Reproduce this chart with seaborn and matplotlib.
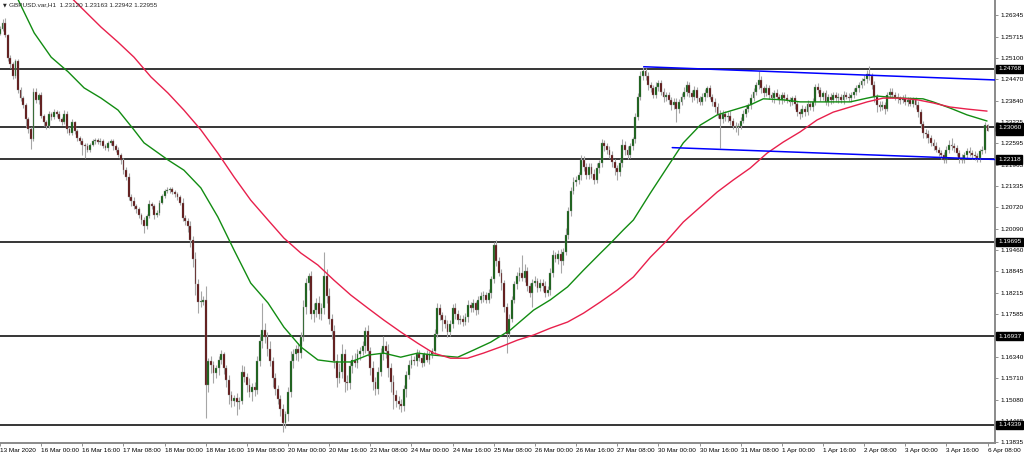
import numpy as np
import pandas as pd
import seaborn as sns
import matplotlib
matplotlib.use("Agg")
import matplotlib.pyplot as plt

# H1 closes, 13 Mar 08:00 .. 6 Apr 08:00
closes = [
    1.2595, 1.2612, 1.2575, 1.2510, 1.2490, 1.2455, 1.2500, 1.2415, 1.2390, 1.2370,
    1.2330, 1.2300, 1.2270, 1.2410, 1.2385, 1.2400, 1.2340, 1.2320, 1.2310, 1.2345,
    1.2335, 1.2350, 1.2345, 1.2330, 1.2320, 1.2345, 1.2300, 1.2290, 1.2320, 1.2295,
    1.2275, 1.2265, 1.2255, 1.2250, 1.2240, 1.2255, 1.2265, 1.2268, 1.2262, 1.2265,
    1.2250, 1.2245, 1.2260, 1.2265, 1.2250, 1.2240, 1.2225, 1.2210, 1.2180, 1.2160,
    1.2102, 1.2090, 1.2075, 1.2065, 1.2050, 1.2035, 1.2015, 1.2045, 1.2080, 1.2075,
    1.2050, 1.2055, 1.2085, 1.2105, 1.2118, 1.2122, 1.2125, 1.2115, 1.2110, 1.2100,
    1.2085, 1.2040, 1.2030, 1.2015, 1.1975, 1.1920, 1.1845, 1.1795, 1.1795, 1.1800,
    1.1550, 1.1620, 1.1610, 1.1585, 1.1600, 1.1625, 1.1640, 1.1600, 1.1565, 1.1520,
    1.1505, 1.1512, 1.1500, 1.1505, 1.1590, 1.1575, 1.1550, 1.1530, 1.1545, 1.1535,
    1.1620, 1.1680, 1.1712, 1.1690, 1.1655, 1.1620, 1.1570, 1.1540, 1.1510, 1.1480,
    1.1440, 1.1465, 1.1530, 1.1620, 1.1640, 1.1655, 1.1645, 1.1690, 1.1780, 1.1850,
    1.1870, 1.1760, 1.1770, 1.1790, 1.1760, 1.1775, 1.1870, 1.1810, 1.1745, 1.1710,
    1.1620, 1.1570, 1.1590, 1.1640, 1.1560, 1.1555, 1.1605, 1.1625, 1.1615, 1.1640,
    1.1650, 1.1665, 1.1710, 1.1650, 1.1600, 1.1560, 1.1540, 1.1590, 1.1640, 1.1665,
    1.1650, 1.1600, 1.1560, 1.1520, 1.1505, 1.1495, 1.1490, 1.1540, 1.1580, 1.1610,
    1.1625, 1.1620, 1.1640, 1.1630, 1.1615, 1.1640, 1.1625, 1.1640, 1.1650, 1.1700,
    1.1775, 1.1755, 1.1740, 1.1730, 1.1705, 1.1730, 1.1775, 1.1760, 1.1740, 1.1745,
    1.1735, 1.1750, 1.1785, 1.1775, 1.1790, 1.1770, 1.1800, 1.1810, 1.1815, 1.1800,
    1.1820, 1.1860, 1.1960, 1.1915, 1.1880, 1.1850, 1.1780, 1.1700, 1.1745, 1.1800,
    1.1845, 1.1870, 1.1880, 1.1865, 1.1885, 1.1840, 1.1820, 1.1850, 1.1855, 1.1835,
    1.1850, 1.1840, 1.1820, 1.1830, 1.1880, 1.1930, 1.1920, 1.1935, 1.1915, 1.1940,
    1.1990, 1.2060, 1.2120, 1.2145, 1.2150, 1.2165, 1.2210, 1.2190, 1.2165, 1.2190,
    1.2170, 1.2150, 1.2185, 1.2200, 1.2260, 1.2250, 1.2240, 1.2225, 1.2205, 1.2185,
    1.2175, 1.2200, 1.2255, 1.2240, 1.2225, 1.2250, 1.2270, 1.2335, 1.2395, 1.2455,
    1.2470, 1.2455, 1.2430, 1.2420, 1.2400, 1.2425, 1.2435, 1.2410, 1.2395, 1.2400,
    1.2385, 1.2370, 1.2380, 1.2360, 1.2380, 1.2395, 1.2410, 1.2430, 1.2405, 1.2395,
    1.2415, 1.2390, 1.2380, 1.2395, 1.2405, 1.2420, 1.2395, 1.2380, 1.2365, 1.2345,
    1.2330, 1.2345, 1.2335, 1.2340, 1.2325, 1.2310, 1.2305, 1.2310, 1.2325, 1.2345,
    1.2360, 1.2370, 1.2390, 1.2410, 1.2430, 1.2445, 1.2420, 1.2405, 1.2420, 1.2400,
    1.2390, 1.2405, 1.2395, 1.2385, 1.2400, 1.2390, 1.2385, 1.2380, 1.2390, 1.2375,
    1.2350, 1.2345, 1.2360, 1.2350, 1.2375, 1.2365, 1.2380, 1.2425, 1.2415, 1.2395,
    1.2405, 1.2380, 1.2395, 1.2385, 1.2400, 1.2390, 1.2395, 1.2385, 1.2400, 1.2395,
    1.2390, 1.2400, 1.2410, 1.2420, 1.2430, 1.2440, 1.2448, 1.2462, 1.2455, 1.2430,
    1.2395, 1.2370, 1.2365, 1.2372, 1.2360, 1.2400, 1.2410, 1.2400, 1.2395, 1.2390,
    1.2385, 1.2390, 1.2380, 1.2385, 1.2375, 1.2385, 1.2370, 1.2350, 1.2315, 1.2290,
    1.2285, 1.2275, 1.2260, 1.2250, 1.2240, 1.2230, 1.2225, 1.2210, 1.2240, 1.2255,
    1.2250, 1.2245, 1.2230, 1.2215, 1.2210, 1.2225, 1.2235, 1.2230, 1.2225, 1.2220,
    1.2215, 1.2235, 1.2240, 1.2312, 1.22955,
]
first_open = 1.2580

# wick lengths beyond the body, in pips
wick_up = [
    6, 10, 13, 5, 8, 6, 7, 5, 9, 6,
    8, 5, 6, 10, 12, 6, 8, 5, 7, 9,
    6, 8, 5, 7, 6, 12, 8, 6, 9, 5,
    6, 5, 8, 4, 10, 6, 7, 5, 6, 8,
    5, 6, 4, 7, 5, 6, 8, 5, 6, 10,
    12, 8, 10, 6, 7, 5, 8, 6, 12, 8,
    6, 8, 7, 5, 6, 10, 5, 6, 8, 7,
    6, 12, 8, 10, 15, 12, 20, 15, 30, 12,
    40, 10, 15, 12, 8, 10, 12, 8, 10, 15,
    12, 10, 15, 10, 20, 15, 12, 20, 10, 15,
    15, 20, 78, 20, 15, 25, 12, 15, 10, 12,
    15, 10, 15, 30, 15, 12, 20, 15, 20, 15,
    10, 15, 20, 15, 20, 15, 70, 20, 25, 15,
    15, 20, 25, 30, 15, 20, 15, 12, 20, 15,
    12, 15, 10, 15, 12, 20, 15, 12, 20, 30,
    15, 20, 15, 20, 15, 12, 15, 10, 12, 15,
    12, 10, 15, 12, 10, 8, 12, 10, 8, 15,
    15, 12, 10, 15, 12, 10, 12, 15, 10, 12,
    10, 12, 15, 10, 12, 8, 10, 12, 10, 8,
    12, 10, 10, 15, 12, 10, 8, 10, 15, 12,
    10, 12, 15, 50, 20, 12, 10, 12, 15, 10,
    12, 10, 15, 10, 12, 15, 10, 12, 15, 12,
    20, 12, 10, 15, 12, 9, 14, 12, 10, 12,
    10, 12, 15, 10, 12, 8, 10, 12, 10, 8,
    10, 12, 15, 10, 12, 10, 8, 12, 10, 15,
    13, 10, 12, 8, 10, 12, 10, 8, 12, 10,
    10, 8, 12, 10, 8, 12, 15, 10, 8, 10,
    12, 10, 8, 10, 12, 8, 10, 8, 10, 12,
    10, 12, 8, 10, 12, 8, 10, 8, 10, 12,
    10, 8, 12, 10, 8, 25, 10, 8, 12, 10,
    8, 10, 12, 8, 10, 8, 12, 10, 8, 10,
    8, 10, 12, 8, 10, 8, 12, 7, 10, 8,
    8, 10, 8, 12, 10, 8, 10, 8, 12, 10,
    10, 8, 12, 10, 8, 10, 12, 10, 23, 10,
    10, 8, 12, 10, 8, 10, 10, 12, 8, 10,
    8, 10, 12, 8, 10, 8, 10, 12, 10, 8,
    10, 12, 8, 10, 12, 8, 10, 8, 10, 12,
    20, 10, 8, 10, 12, 8, 10, 12, 8, 10,
    10, 8, 10, 8, 4.3,
]
wick_dn = [
    5, 6, 4, 10, 12, 8, 5, 9, 6, 8,
    25, 12, 28, 6, 8, 10, 7, 12, 9, 6,
    8, 6, 10, 7, 9, 6, 12, 8, 6, 10,
    10, 8, 30, 35, 8, 6, 5, 7, 6, 8,
    6, 5, 8, 6, 10, 8, 7, 12, 10, 8,
    10, 15, 8, 12, 10, 14, 20, 8, 6, 10,
    12, 8, 6, 5, 7, 6, 8, 6, 10, 8,
    8, 10, 12, 15, 20, 25, 30, 33, 15, 10,
    95, 20, 25, 30, 15, 20, 12, 18, 20, 25,
    20, 15, 37, 20, 10, 15, 20, 15, 25, 18,
    10, 15, 20, 15, 20, 15, 25, 20, 15, 20,
    27, 15, 20, 15, 20, 15, 25, 15, 12, 20,
    20, 15, 25, 20, 15, 20, 15, 20, 15, 25,
    20, 25, 15, 20, 30, 20, 15, 20, 12, 15,
    15, 12, 20, 15, 20, 25, 20, 15, 12, 15,
    20, 25, 30, 40, 20, 15, 20, 15, 25, 12,
    10, 12, 15, 10, 12, 10, 8, 12, 10, 10,
    10, 15, 30, 12, 15, 10, 12, 15, 10, 12,
    12, 10, 15, 12, 10, 15, 12, 10, 15, 10,
    10, 15, 12, 15, 10, 20, 15, 55, 12, 10,
    10, 12, 15, 10, 12, 15, 12, 40, 10, 12,
    10, 15, 12, 10, 15, 12, 10, 15, 37, 12,
    10, 12, 15, 10, 12, 10, 15, 12, 10, 12,
    12, 10, 8, 12, 10, 15, 12, 10, 15, 20,
    25, 12, 10, 15, 12, 10, 12, 10, 8, 10,
    10, 12, 15, 12, 10, 8, 12, 10, 15, 12,
    12, 15, 10, 40, 12, 10, 8, 12, 10, 15,
    10, 12, 10, 8, 12, 10, 8, 12, 15, 12,
    85, 12, 10, 15, 12, 10, 12, 22, 10, 8,
    8, 10, 12, 8, 10, 12, 15, 10, 8, 12,
    10, 12, 8, 10, 12, 10, 8, 12, 10, 15,
    12, 15, 10, 12, 8, 10, 12, 8, 10, 12,
    10, 8, 12, 10, 8, 10, 12, 8, 10, 8,
    8, 10, 8, 10, 12, 8, 10, 12, 10, 12,
    15, 20, 12, 10, 15, 8, 10, 8, 10, 12,
    10, 8, 10, 12, 8, 10, 12, 15, 12, 15,
    12, 15, 10, 12, 8, 10, 12, 10, 8, 10,
    10, 12, 10, 15, 10, 8, 10, 8, 12, 10,
    12, 10, 8, 10, 1.3,
]

date_labels = [
    "13 Mar 2020", "16 Mar 00:00", "16 Mar 16:00", "17 Mar 08:00", "18 Mar 00:00",
    "18 Mar 16:00", "19 Mar 08:00", "20 Mar 00:00", "20 Mar 16:00", "23 Mar 08:00",
    "24 Mar 00:00", "24 Mar 16:00", "25 Mar 08:00", "26 Mar 00:00", "26 Mar 16:00",
    "27 Mar 08:00", "30 Mar 00:00", "30 Mar 16:00", "31 Mar 08:00", "1 Apr 00:00",
    "1 Apr 16:00", "2 Apr 08:00", "3 Apr 00:00", "3 Apr 16:00", "6 Apr 08:00",
]
bars_per_label = 16

price_ticks = [1.26345, 1.25715, 1.25100, 1.24470, 1.23840, 1.23225, 1.22595,
               1.21965, 1.21335, 1.20720, 1.20090, 1.19460, 1.18845, 1.18215,
               1.17585, 1.16955, 1.16340, 1.15710, 1.15080, 1.14465, 1.13835]
hidden_ticks = [1.16955]  # fully covered by the 1.16937 box in the terminal

levels = [1.24768, 1.23060, 1.22118, 1.19695, 1.16937, 1.14339]
last_bar = (1.23120, 1.23163, 1.22942, 1.22955)

# moving averages, read at sampled bars
ma_fast_bar = [7, 13.3, 19.9, 26.5, 32.7, 39.3, 45.9, 52.1, 56, 65.3, 71.5, 78.1, 84.7, 91,
               97.5, 104.2, 110.4, 117, 123.6, 129.8, 136.4, 143, 149.2, 155.8, 162.4, 168.6,
               178, 184.2, 190.8, 198.5, 207.5, 214, 220.7, 226.9, 233.5, 237.4, 242.4, 246.3,
               252.9, 259.5, 265.7, 272.3, 278.9, 285.1, 291.7, 296.8, 304.5, 311.1, 330.6,
               337.2, 341.1, 350, 358.9, 362.8, 369.4, 376, 383.8]
ma_fast = [1.2680, 1.2582, 1.2511, 1.2468, 1.2421, 1.2391, 1.2356, 1.2298, 1.2260, 1.2210,
           1.2180, 1.2128, 1.2043, 1.1946, 1.1849, 1.1791, 1.1720, 1.1662, 1.1624, 1.1618,
           1.1618, 1.1638, 1.1644, 1.1632, 1.1644, 1.1638, 1.1632, 1.1653, 1.1676, 1.1712,
           1.1770, 1.1800, 1.1838, 1.1887, 1.1937, 1.1966, 1.2005, 1.2034, 1.2113, 1.2189,
           1.2260, 1.2312, 1.2342, 1.2356, 1.2371, 1.2389, 1.2386, 1.2380, 1.2380, 1.2391,
           1.2397, 1.2391, 1.2389, 1.2380, 1.2362, 1.2342, 1.2324]
ma_slow_bar = [28.4, 39.3, 45.9, 52.1, 58.7, 65.3, 71.5, 78.1, 84.7, 91, 97.5, 104.2, 110.4,
               117, 123.6, 129.8, 136.4, 143, 149.2, 155.8, 162.4, 168.6, 175.2, 181.8, 188,
               194.6, 201.2, 207.5, 214, 220.7, 226.9, 233.5, 240.1, 246.3, 252.9, 259.5,
               265.7, 272.3, 278.9, 285.1, 291.7, 298.3, 304.5, 311.1, 317.7, 324, 330.6,
               337.2, 343.4, 350, 356.7, 362.8, 369.4, 376, 383.8]
ma_slow = [1.2680, 1.2599, 1.2555, 1.2511, 1.2453, 1.2406, 1.2356, 1.2298, 1.2230, 1.2160,
           1.2092, 1.2034, 1.1981, 1.1937, 1.1902, 1.1858, 1.1814, 1.1776, 1.1741, 1.1706,
           1.1673, 1.1644, 1.1629, 1.1629, 1.1644, 1.1662, 1.1682, 1.1697, 1.1717, 1.1735,
           1.1761, 1.1794, 1.1829, 1.1867, 1.1925, 1.1975, 1.2028, 1.2072, 1.2116, 1.2151,
           1.2186, 1.2230, 1.2262, 1.2292, 1.2327, 1.2350, 1.2365, 1.2380, 1.2391, 1.2391,
           1.2386, 1.2377, 1.2365, 1.2359, 1.2353]

# channel lines drawn on the chart
upper_bar = [250.3, 388]
upper_price = [1.2483, 1.2444]
lower_bar = [261.4, 388]
lower_price = [1.2246, 1.2211]

# ---- build OHLC table
c = np.array(closes)
o = np.concatenate([[first_open], c[:-1]])
o[-1] = last_bar[0]
hi = np.maximum(o, c) + np.array(wick_up) / 10000
lo = np.minimum(o, c) - np.array(wick_dn) / 10000
df = pd.DataFrame({"bar": np.arange(len(c)), "open": o, "high": hi, "low": lo, "close": c})
df["up"] = df["close"] >= df["open"]

ma = pd.concat([
    pd.DataFrame({"bar": ma_fast_bar, "price": ma_fast, "ma": "fast"}),
    pd.DataFrame({"bar": ma_slow_bar, "price": ma_slow, "ma": "slow"}),
])

sns.set_theme(style="white")
plt.rcParams["font.family"] = ["Liberation Sans", "DejaVu Sans"]

W, H = 1024, 455
fig = plt.figure(figsize=(W / 100, H / 100), dpi=100)
ax = fig.add_axes([0, (H - 443) / H, 995 / W, 443 / H])
ax.set_xlim(0.47, 386.9)
ax.set_ylim(1.13806, 1.26785)

for lv in levels:
    ax.axhline(lv, color="#353535", lw=1.4, zorder=1)

ax.vlines(df["bar"], df["low"], df["high"], color="#a6a6a6", lw=0.8, zorder=2)
body = (df["close"] - df["open"]).abs().clip(lower=0.00004)
ax.bar(df["bar"], body, bottom=df[["open", "close"]].min(axis=1), width=0.72,
       color=np.where(df["up"], "#0c5c0c", "#5c0c0c"), edgecolor="#8f8f8f",
       linewidth=0.25, zorder=3)

sns.lineplot(data=ma, x="bar", y="price", hue="ma", palette={"fast": "#128c12", "slow": "#e8204c"},
             linewidth=1.0, legend=False, sort=False, ax=ax, zorder=4)

ax.plot(upper_bar, upper_price, color="#0000ff", lw=1.1, zorder=4)
ax.plot(lower_bar, lower_price, color="#0000ff", lw=1.1, zorder=4)

# axes styling
ax.yaxis.tick_right()
ax.set_yticks(price_ticks)
ax.set_yticklabels(["" if p in hidden_ticks else f"{p:.5f}" for p in price_ticks])
ax.set_xticks(np.arange(len(date_labels)) * bars_per_label)
ax.set_xticklabels(date_labels)
for lbl in ax.get_xticklabels():
    lbl.set_horizontalalignment("left")
ax.tick_params(axis="y", which="both", right=True, left=False, direction="out", length=2.5,
               width=0.6, color="#808080", labelsize=4.6, pad=1.2, labelcolor="#000000")
ax.tick_params(axis="x", which="both", bottom=True, direction="out", length=2.5, width=0.6,
               color="#808080", labelsize=4.6, pad=1.0, labelcolor="#000000")
ax.set_xlabel("")
ax.set_ylabel("")
for side in ["top", "left"]:
    ax.spines[side].set_visible(False)
for side in ["right", "bottom"]:
    ax.spines[side].set_color("#8a8a8a")
    ax.spines[side].set_linewidth(1.4)

# price boxes on the axis
box = dict(boxstyle="square,pad=0.28", fc="black", ec="black")
for p in [last_bar[3]] + levels:
    ax.annotate(f"{p:.5f}", xy=(1, p), xycoords=("axes fraction", "data"), xytext=(2.2, 0),
                textcoords="offset points", ha="left", va="center", fontsize=4.6,
                color="white", bbox=box, annotation_clip=False, zorder=6)

fig.text(3 / W, 1 - 5 / H, "\u25bc", fontsize=3.5, va="center", ha="left",
         family=["DejaVu Sans"])
fig.text(9 / W, 1 - 5 / H, "GBPUSD.var,H1  " + " ".join(f"{v:.5f}" for v in last_bar),
         fontsize=4.6, va="center", ha="left")

fig.savefig("out.png", dpi=100, facecolor="white")
